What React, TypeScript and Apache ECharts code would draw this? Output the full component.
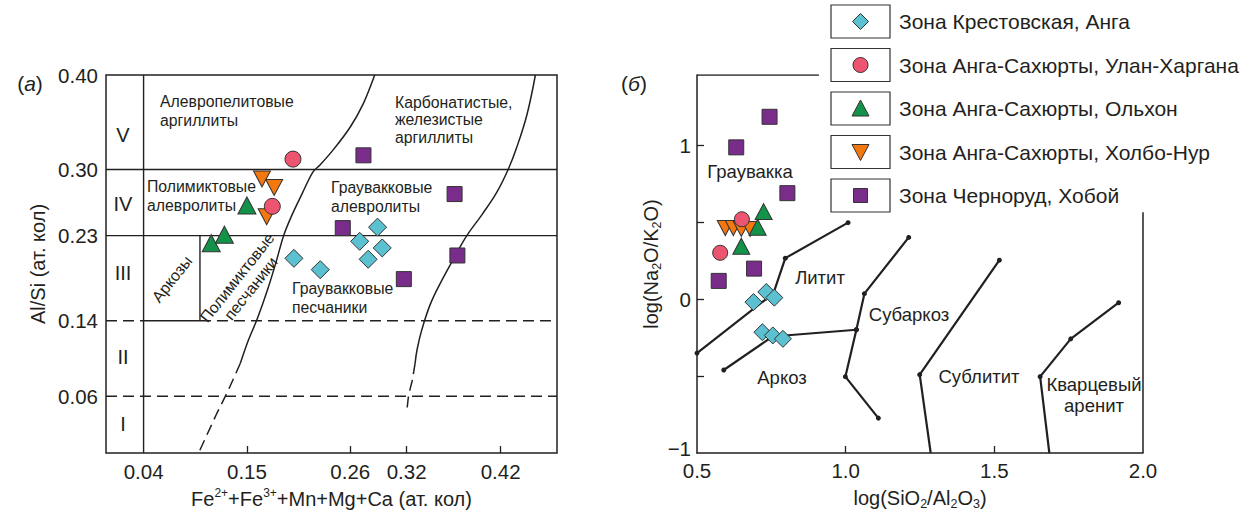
import React, { useEffect, useRef } from 'react';
import * as echarts from 'echarts';

// ---------- Panel (а): Al/Si vs Fe+Mn+Mg+Ca ----------
const aXTickLabels = [0.04, 0.15, 0.26, 0.32, 0.42];
const aXTickMarks = [0.15, 0.26, 0.32, 0.42];
const aYTickLabels = [0.06, 0.14, 0.23, 0.3, 0.4];

const aKrest = [[0.200, 0.206], [0.228, 0.194], [0.270, 0.224], [0.289, 0.239], [0.294, 0.217], [0.279, 0.205]];
const aUlan = [[0.199, 0.311], [0.177, 0.261]];
const aOlkhon = [[0.150, 0.262], [0.112, 0.222], [0.126, 0.231]];
const aKholbo = [[0.166, 0.290], [0.179, 0.281], [0.171, 0.250]];
const aKhoboy = [[0.274, 0.315], [0.371, 0.274], [0.252, 0.238], [0.374, 0.209], [0.317, 0.184]];

const aLeftCurveSolid = [[0.286, 0.400], [0.274, 0.370], [0.260, 0.345], [0.242, 0.321], [0.228, 0.305], [0.220, 0.297], [0.209, 0.275], [0.198, 0.252], [0.189, 0.230], [0.181, 0.202], [0.172, 0.173], [0.161, 0.142], [0.151, 0.118], [0.143, 0.095]];
const aLeftCurveDashed = [[0.143, 0.095], [0.130, 0.066], [0.118, 0.042], [0.099, 0.001]];
const aRightCurveSolid = [[0.457, 0.400], [0.448, 0.358], [0.437, 0.323], [0.428, 0.300], [0.416, 0.276], [0.400, 0.252], [0.384, 0.230], [0.368, 0.202], [0.356, 0.180], [0.345, 0.157], [0.336, 0.130], [0.331, 0.109], [0.329, 0.095]];
const aRightCurveDashed = [[0.329, 0.095], [0.326, 0.077], [0.322, 0.061], [0.320, 0.043]];

const aSolidLines = [
  [[0, 0.30], [0.48, 0.30]],
  [[0, 0.23], [0.48, 0.23]],
  [[0.04, 0.14], [0.10, 0.14]],
  [[0.04, 0], [0.04, 0.40]],
  [[0.10, 0.14], [0.10, 0.23]],
];
const aDashedLines = [
  [[0, 0.14], [0.04, 0.14]],
  [[0.10, 0.14], [0.48, 0.14]],
  [[0, 0.06], [0.48, 0.06]],
];

// ---------- Panel (б): log(Na2O/K2O) vs log(SiO2/Al2O3) ----------
const bXTickLabels = [0.5, 1.0, 1.5, 2.0];
const bXTickMarks = [1.0, 1.5];
const bYTickLabels = [-1, 0, 1];
const bYTickMarks = [-0.5, 0, 0.5, 1];

const bKrest = [[0.690, -0.018], [0.733, 0.048], [0.760, 0.011], [0.720, -0.214], [0.755, -0.235], [0.789, -0.257]];
const bUlan = [[0.651, 0.521], [0.578, 0.303]];
const bOlkhon = [[0.724, 0.571], [0.704, 0.469], [0.649, 0.346]];
const bKholbo = [[0.595, 0.464], [0.622, 0.464], [0.649, 0.458], [0.679, 0.458]];
const bKhoboy = [[0.744, 1.188], [0.632, 0.989], [0.804, 0.691], [0.692, 0.200], [0.573, 0.120]];

const bLineA = [[0.5, -0.35], [0.757, 0.039], [0.797, 0.268], [1.008, 0.499]];
const bLineB1 = [[0.590, -0.460], [0.754, -0.242], [1.036, -0.198]];
const bLineB2 = [[1.110, -0.773], [0.999, -0.503], [1.036, -0.198], [1.063, 0.037], [1.212, 0.403]];
const bLineC = [[1.286, -1.0], [1.249, -0.49], [1.517, 0.255]];
const bLineD = [[1.685, -1.0], [1.654, -0.503], [1.757, -0.257], [1.918, -0.022]];
const bNoDot: Record<string, number[]> = { A: [1], B1: [1], B2: [], C: [0], D: [0] };

const bFrameTop = [[0.5, 1.46], [0.91, 1.46]];
const bFrameRight = [[2.0, -1], [2.0, 0.566]];

const legendNames = [
  'Зона Крестовская, Анга',
  'Зона Анга-Сахюрты, Улан-Харгана',
  'Зона Анга-Сахюрты, Ольхон',
  'Зона Анга-Сахюрты, Холбо-Нур',
  'Зона Черноруд, Хобой',
];

const FONT = '"Liberation Sans", Arial, Helvetica, sans-serif';
const INK = '#231f20';
const C_KREST = '#5bc0cf';
const C_ULAN = '#ec5470';
const C_OLKHON = '#13934a';
const C_KHOLBO = '#f2780f';
const C_KHOBOY = '#7a2c8a';

function lineSeries(idx: number, data: number[][], dashed: boolean, width = 1.4, smooth: number | boolean = false) {
  return {
    type: 'line', xAxisIndex: idx, yAxisIndex: idx, data, symbol: 'none', silent: true, smooth,
    lineStyle: { color: INK, width, type: dashed ? [11, 6] : 'solid' }, z: 2,
  };
}

function boundarySeries(key: string, pts: number[][]) {
  return {
    type: 'line', xAxisIndex: 1, yAxisIndex: 1, silent: true, z: 2,
    data: pts.map((p, i) => (bNoDot[key].includes(i) ? { value: p, symbol: 'none' } : { value: p })),
    symbol: 'circle', symbolSize: 5, showSymbol: true,
    itemStyle: { color: INK }, lineStyle: { color: INK, width: 2.2 },
  };
}

function scatter(idx: number, name: string, data: number[][], symbol: string, size: number | number[], color: string, rotate = 0) {
  return {
    type: 'scatter', name, xAxisIndex: idx, yAxisIndex: idx, data, symbol, symbolSize: size, symbolRotate: rotate,
    itemStyle: { color, borderColor: '#333', borderWidth: 1, opacity: 1 }, z: 5,
  };
}

function txt(x: number, y: number, text: string, fontSize: number, extra: any = {}, styleExtra: any = {}) {
  return {
    type: 'text', x, y, silent: true, ...extra,
    style: { text, fontSize, fontFamily: FONT, fill: INK, align: 'left', verticalAlign: 'top', ...styleExtra },
  };
}

const legendCenters = [21.5, 65, 108.5, 152, 195.5];

function legendGraphics() {
  const out: any[] = [];
  const mx = 860.5;
  legendCenters.forEach((c, i) => {
    out.push({ type: 'rect', shape: { x: 831, y: c - 16.5, width: 59, height: 33 }, style: { fill: '#fff', stroke: '#333', lineWidth: 1.2 } });
    const st = { stroke: '#333', lineWidth: 1 };
    if (i === 0) out.push({ type: 'polygon', shape: { points: [[mx, c - 8], [mx + 8, c], [mx, c + 8], [mx - 8, c]] }, style: { fill: C_KREST, ...st } });
    if (i === 1) out.push({ type: 'circle', shape: { cx: mx, cy: c, r: 7.5 }, style: { fill: C_ULAN, ...st } });
    if (i === 2) out.push({ type: 'polygon', shape: { points: [[mx, c - 8.5], [mx + 8.5, c + 7.5], [mx - 8.5, c + 7.5]] }, style: { fill: C_OLKHON, ...st } });
    if (i === 3) out.push({ type: 'polygon', shape: { points: [[mx - 8.5, c - 7.5], [mx + 8.5, c - 7.5], [mx, c + 8.5]] }, style: { fill: C_KHOLBO, ...st } });
    if (i === 4) out.push({ type: 'rect', shape: { x: mx - 7, y: c - 7, width: 14, height: 14 }, style: { fill: C_KHOBOY, ...st } });
    out.push(txt(899, c, legendNames[i], 21, {}, { verticalAlign: 'middle' }));
  });
  return out;
}

const rich = {
  sup: { fontSize: 12, fontFamily: FONT, color: INK, verticalAlign: 'top', lineHeight: 12 },
  sub: { fontSize: 12.5, fontFamily: FONT, color: INK, verticalAlign: 'bottom', lineHeight: 12 },
};

const axisText = { fontSize: 20.5, color: INK, fontFamily: FONT };
const nameText = { fontSize: 20, color: INK, fontFamily: FONT, lineHeight: 25, rich };

const option: any = {
  animation: false,
  backgroundColor: '#fff',
  textStyle: { fontFamily: FONT },
  grid: [
    { left: 106, top: 75, width: 451, height: 378, show: true, borderColor: INK, borderWidth: 1.5, backgroundColor: 'transparent', outerBoundsMode: 'none' },
    { left: 697, top: 75, width: 446, height: 378, show: false, outerBoundsMode: 'none' },
  ],
  xAxis: [
    {
      gridIndex: 0, type: 'value', min: 0, max: 0.48,
      axisLine: { show: false }, splitLine: { show: false },
      axisTick: { show: true, inside: true, length: 7, customValues: aXTickMarks, lineStyle: { color: INK, width: 1.3 } },
      axisLabel: { customValues: aXTickLabels, formatter: (v: number) => v.toFixed(2), margin: 8, ...axisText },
      name: 'Fe{sup|2+}+Fe{sup|3+}+Mn+Mg+Ca (ат. кол)', nameLocation: 'middle', nameGap: 31, nameTextStyle: nameText,
    },
    {
      gridIndex: 1, type: 'value', min: 0.5, max: 2.0,
      axisLine: { show: true, onZero: false, lineStyle: { color: INK, width: 1.5 } }, splitLine: { show: false },
      axisTick: { show: true, inside: true, length: 7, customValues: bXTickMarks, lineStyle: { color: INK, width: 1.3 } },
      axisLabel: { customValues: bXTickLabels, formatter: (v: number) => v.toFixed(1), margin: 7, ...axisText },
      name: 'log(SiO{sub|2}/Al{sub|2}O{sub|3})', nameLocation: 'middle', nameGap: 29, nameTextStyle: nameText,
    },
  ],
  yAxis: [
    {
      gridIndex: 0, type: 'value', min: 0, max: 0.4,
      axisLine: { show: false }, splitLine: { show: false }, axisTick: { show: false },
      axisLabel: { customValues: aYTickLabels, formatter: (v: number) => v.toFixed(2), margin: 8, ...axisText },
      name: 'Al/Si (ат. кол)', nameLocation: 'middle', nameRotate: 90, nameGap: 56, nameTextStyle: nameText,
    },
    {
      gridIndex: 1, type: 'value', min: -1, max: 1.46,
      axisLine: { show: true, onZero: false, lineStyle: { color: INK, width: 1.5 } }, splitLine: { show: false },
      axisTick: { show: true, inside: true, length: 7, customValues: bYTickMarks, lineStyle: { color: INK, width: 1.3 } },
      axisLabel: {
        customValues: bYTickLabels,
        formatter: (v: number) => (v < 0 ? '{lo|\u2212' + Math.abs(v) + '}' : String(v)),
        margin: 6, ...axisText,
        rich: { lo: { fontSize: 20.5, fontFamily: FONT, color: INK, padding: [0, 0, 10, 0] } },
      },
      name: 'log(Na{sub|2}O/K{sub|2}O)', nameLocation: 'middle', nameRotate: 90, nameGap: 34, nameTextStyle: nameText,
    },
  ],
  series: [
    ...aSolidLines.map((l) => lineSeries(0, l, false, 1.4)),
    ...aDashedLines.map((l) => lineSeries(0, l, true, 1.4)),
    lineSeries(0, aLeftCurveSolid, false, 1.5, 0.3),
    lineSeries(0, aLeftCurveDashed, true, 1.5),
    lineSeries(0, aRightCurveSolid, false, 1.5, 0.4),
    lineSeries(0, aRightCurveDashed, true, 1.5),
    scatter(0, legendNames[0], aKrest, 'diamond', 18, C_KREST),
    scatter(0, legendNames[3], aKholbo, 'triangle', [17, 16], C_KHOLBO, 180),
    scatter(0, legendNames[1], aUlan, 'circle', 16, C_ULAN),
    scatter(0, legendNames[2], aOlkhon, 'triangle', [18, 17], C_OLKHON),
    scatter(0, legendNames[4], aKhoboy, 'rect', 15, C_KHOBOY),

    lineSeries(1, bFrameTop, false, 1.5),
    lineSeries(1, bFrameRight, false, 1.5),
    boundarySeries('A', bLineA),
    boundarySeries('B1', bLineB1),
    boundarySeries('B2', bLineB2),
    boundarySeries('C', bLineC),
    boundarySeries('D', bLineD),
    scatter(1, legendNames[0], bKrest, 'diamond', 17, C_KREST),
    scatter(1, legendNames[3], bKholbo, 'triangle', [16, 15], C_KHOLBO, 180),
    scatter(1, legendNames[1], bUlan, 'circle', 15, C_ULAN),
    scatter(1, legendNames[2], bOlkhon, 'triangle', [17, 16], C_OLKHON),
    scatter(1, legendNames[4], bKhoboy, 'rect', 15, C_KHOBOY),
  ],
  graphic: [
    // panel labels
    { type: 'text', x: 30, y: 83, silent: true, style: { text: '({i|а})', fontSize: 21, fontFamily: FONT, fill: INK, align: 'center', verticalAlign: 'middle', rich: { i: { fontStyle: 'italic', fontSize: 21, fontFamily: FONT, fill: INK } } } },
    { type: 'text', x: 634, y: 83, silent: true, style: { text: '({i|б})', fontSize: 21, fontFamily: FONT, fill: INK, align: 'center', verticalAlign: 'middle', rich: { i: { fontStyle: 'italic', fontSize: 21, fontFamily: FONT, fill: INK } } } },
    // roman numerals
    txt(123, 135, 'V', 20, {}, { align: 'center', verticalAlign: 'middle' }),
    txt(123, 204, 'IV', 20, {}, { align: 'center', verticalAlign: 'middle' }),
    txt(123, 273, 'III', 20, {}, { align: 'center', verticalAlign: 'middle' }),
    txt(123, 357, 'II', 20, {}, { align: 'center', verticalAlign: 'middle' }),
    txt(123, 424, 'I', 20, {}, { align: 'center', verticalAlign: 'middle' }),
    // region names (а)
    txt(160, 92, 'Алевропелитовые\nаргиллиты', 15.8, {}, { lineHeight: 19 }),
    txt(147, 177, 'Полимиктовые\nалевролиты', 15.8, {}, { lineHeight: 19 }),
    txt(395, 93.5, 'Карбонатистые,\nжелезистые\nаргиллиты', 15.8, {}, { lineHeight: 17.5 }),
    txt(331, 178.5, 'Граувакковые\nалевролиты', 15.8, {}, { lineHeight: 18.5 }),
    txt(292, 279.5, 'Граувакковые\nпесчаники', 15.8, {}, { lineHeight: 18.5 }),
    txt(172, 279, 'Аркозы', 16, { rotation: 0.9 }, { align: 'center', verticalAlign: 'middle' }),
    txt(244, 283, 'Полимиктовые\nпесчаники', 15.8, { rotation: 0.9 }, { align: 'center', verticalAlign: 'middle', lineHeight: 17.5 }),
    // region names (б)
    txt(750, 171, 'Граувакка', 18.5, {}, { align: 'center', verticalAlign: 'middle' }),
    txt(820, 277, 'Литит', 18.5, {}, { align: 'center', verticalAlign: 'middle' }),
    txt(909, 314, 'Субаркоз', 18.5, {}, { align: 'center', verticalAlign: 'middle' }),
    txt(782, 377, 'Аркоз', 18.5, {}, { align: 'center', verticalAlign: 'middle' }),
    txt(979, 376, 'Сублитит', 18.5, {}, { align: 'center', verticalAlign: 'middle' }),
    txt(1094, 394.5, 'Кварцевый\nаренит', 18.5, {}, { align: 'center', verticalAlign: 'middle', lineHeight: 21 }),
    ...legendGraphics(),
  ],
};

export default function App() {
  const ref = useRef<HTMLDivElement>(null);
  useEffect(() => {
    const chart = echarts.init(ref.current!, null, { renderer: 'svg' });
    chart.setOption(option);
    return () => chart.dispose();
  }, []);
  return <div ref={ref} style={{ position: 'fixed', left: 0, top: 0, width: 1255, height: 511, background: '#fff' }} />;
}
